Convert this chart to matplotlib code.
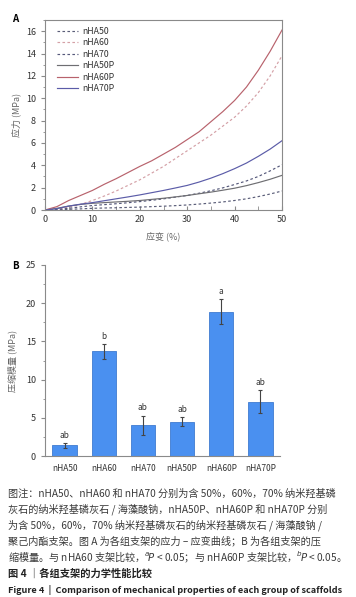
import matplotlib.pyplot as plt
from matplotlib.ticker import MultipleLocator

plt.rcParams['font.family'] = ['Noto Sans CJK SC', 'DejaVu Sans']
plt.rcParams['mathtext.fontset'] = 'dejavusans'

# panel A: stress-strain curves, values every 2.5 %
strain = [0, 2.5, 5, 7.5, 10, 12.5, 15, 17.5, 20, 22.5, 25,
          27.5, 30, 32.5, 35, 37.5, 40, 42.5, 45, 47.5, 50]
nHA50 = [0, 0.02, 0.06, 0.1, 0.15, 0.18, 0.2, 0.23, 0.26, 0.3, 0.34,
         0.39, 0.45, 0.53, 0.62, 0.72, 0.85, 1.0, 1.2, 1.43, 1.7]
nHA60 = [0, 0.05, 0.25, 0.5, 0.85, 1.25, 1.7, 2.2, 2.7, 3.3, 3.9,
         4.6, 5.3, 6.0, 6.7, 7.5, 8.3, 9.3, 10.5, 12.0, 13.8]
nHA70 = [0, 0.05, 0.15, 0.28, 0.4, 0.48, 0.56, 0.65, 0.75, 0.87, 1.0,
         1.15, 1.3, 1.5, 1.72, 1.98, 2.28, 2.6, 3.0, 3.5, 4.05]
nHA50P = [0, 0.15, 0.35, 0.5, 0.6, 0.66, 0.72, 0.78, 0.85, 0.95, 1.05,
          1.17, 1.3, 1.45, 1.6, 1.77, 1.95, 2.18, 2.45, 2.75, 3.1]
nHA60P = [0, 0.3, 0.85, 1.3, 1.75, 2.3, 2.8, 3.35, 3.9, 4.4, 5.0,
          5.6, 6.3, 7.0, 7.9, 8.8, 9.8, 11.0, 12.5, 14.2, 16.1]
nHA70P = [0, 0.12, 0.35, 0.52, 0.66, 0.83, 1.0, 1.17, 1.35, 1.55, 1.75,
          1.97, 2.2, 2.5, 2.85, 3.25, 3.7, 4.2, 4.8, 5.45, 6.2]

dash = (0, (2.2, 2))
curves = [
    ('nHA50', nHA50, '#5a5d78', dash),
    ('nHA60', nHA60, '#d4a0a6', dash),
    ('nHA70', nHA70, '#55587a', dash),
    ('nHA50P', nHA50P, '#6e6e72', '-'),
    ('nHA60P', nHA60P, '#b8626c', '-'),
    ('nHA70P', nHA70P, '#5b5ca8', '-'),
]

# panel B: compressive modulus
groups = ['nHA50', 'nHA60', 'nHA70', 'nHA50P', 'nHA60P', 'nHA70P']
modulus = [1.4, 13.7, 4.0, 4.5, 18.9, 7.1]
modulus_err = [0.3, 1.0, 1.3, 0.6, 1.6, 1.5]
letters = ['ab', 'b', 'ab', 'ab', 'a', 'ab']

W, H = 356, 597
fig = plt.figure(figsize=(W / 100, H / 100), dpi=100)

def box(l, t, r, b):
    return [l / W, 1 - b / H, (r - l) / W, (b - t) / H]

spine_col = '#8a8a8a'
txt_col = '#333333'

# ---- A ----
ax = fig.add_axes(box(45, 20, 282, 210))
for name, ys, col, ls in curves:
    ax.plot(strain, ys, color=col, linestyle=ls, lw=0.85, label=name)
ax.set_xlim(0, 50)
ax.set_ylim(0, 17)
ax.xaxis.set_major_locator(MultipleLocator(10))
ax.xaxis.set_minor_locator(MultipleLocator(5))
ax.yaxis.set_major_locator(MultipleLocator(2))
ax.yaxis.set_minor_locator(MultipleLocator(1))
for s in ax.spines.values():
    s.set_color(spine_col)
    s.set_linewidth(0.8)
ax.tick_params(which='both', colors=spine_col, labelcolor=txt_col, labelsize=6.5)
ax.tick_params(axis='x', which='both', direction='in', length=3)
ax.tick_params(axis='y', which='major', length=3)
ax.tick_params(axis='y', which='minor', length=1.5)
ax.set_xlabel('应变 (%)', fontsize=6.5, color='#666666', labelpad=6)
ax.set_ylabel('应力 (MPa)', fontsize=6.5, color='#666666', labelpad=3)
leg = ax.legend(loc='upper left', frameon=False, fontsize=6.3, handlelength=2.4,
                handletextpad=0.5, labelspacing=0.28, borderaxespad=0.4,
                bbox_to_anchor=(0.02, 1.0))
for t in leg.get_texts():
    t.set_color(txt_col)
fig.text(12 / W, 1 - 19 / H, 'A', fontsize=7, fontweight='bold', va='center')

# ---- B ----
bx = fig.add_axes(box(45, 265, 280, 456))
pos = range(len(groups))
bx.bar(pos, modulus, width=0.62, color='#4a90f0', edgecolor='#3f7bd0', lw=0.6,
       yerr=modulus_err, error_kw=dict(ecolor='#444444', elinewidth=0.8, capsize=1.5, capthick=0.8))
for i, (v, e, lab) in enumerate(zip(modulus, modulus_err, letters)):
    bx.text(i, v + e + 0.4, lab, ha='center', va='bottom', fontsize=6, color=txt_col)
bx.set_xlim(-0.5, 5.5)
bx.set_ylim(0, 25)
bx.set_xticks(list(pos))
bx.set_xticklabels(groups)
bx.yaxis.set_major_locator(MultipleLocator(5))
bx.yaxis.set_minor_locator(MultipleLocator(2.5))
for k in ['top', 'right']:
    bx.spines[k].set_visible(False)
for k in ['left', 'bottom']:
    bx.spines[k].set_color(spine_col)
    bx.spines[k].set_linewidth(0.8)
bx.tick_params(which='both', colors=spine_col, labelcolor=txt_col, labelsize=6.5)
bx.tick_params(axis='x', length=0, pad=6, labelsize=6)
bx.tick_params(axis='y', which='major', length=3)
bx.tick_params(axis='y', which='minor', length=1.5)
bx.set_ylabel('压缩模量 (MPa)', fontsize=6.5, color='#666666', labelpad=6)
fig.text(12 / W, 1 - 266 / H, 'B', fontsize=7, fontweight='bold', va='center')

# ---- caption ----
cap = [
    '图注：nHA50、nHA60 和 nHA70 分别为含 50%，60%，70% 纳米羟基磷',
    '灰石的纳米羟基磷灰石 / 海藻酸钠，nHA50P、nHA60P 和 nHA70P 分别',
    '为含 50%，60%，70% 纳米羟基磷灰石的纳米羟基磷灰石 / 海藻酸钠 /',
    '聚己内酯支架。图 A 为各组支架的应力 – 应变曲线；B 为各组支架的压',
    '缩模量。与 nHA60 支架比较，$^{a}\\!\\mathit{P}$ < 0.05；与 nHA60P 支架比较，$^{b}\\!\\mathit{P}$ < 0.05。',
]
for i, line in enumerate(cap):
    fig.text(8 / W, 1 - (493 + 16 * i) / H, line, fontsize=7.3, color='#3a3a3a', va='center')
fig.text(8 / W, 1 - 574 / H, '图 4 ｜各组支架的力学性能比较', fontsize=7.4,
         fontweight='bold', color='#222222', va='center')
fig.text(8 / W, 1 - 590 / H, 'Figure 4  |  Comparison of mechanical properties of each group of scaffolds',
         fontsize=6.6, fontweight='bold', color='#222222', va='center')

fig.savefig('out.png', dpi=100)
